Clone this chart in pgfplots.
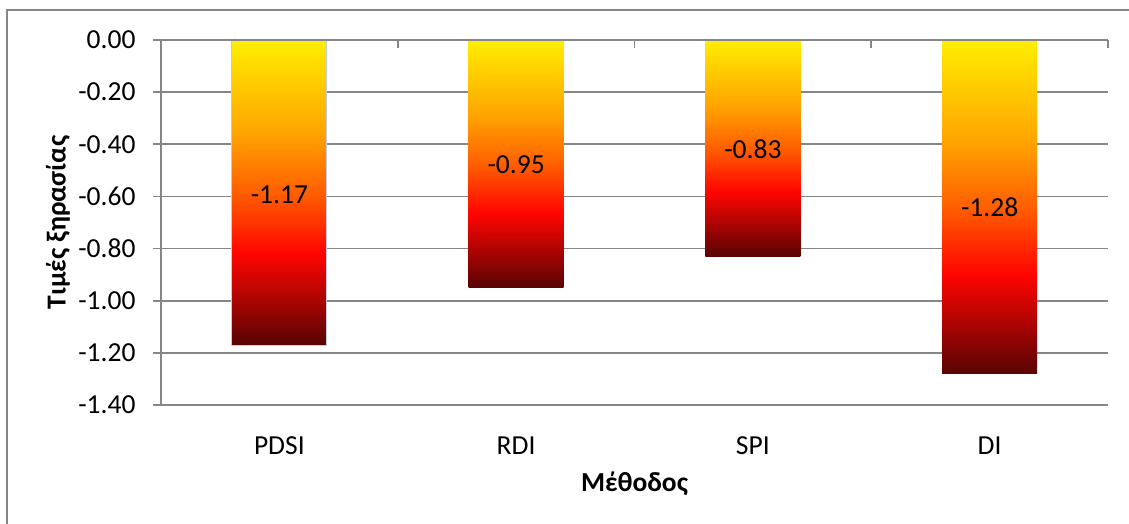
\documentclass[border=0pt]{standalone}
\usepackage{pgfplots}
\pgfplotsset{compat=1.18}
\usepackage{fontspec}
\setmainfont{Carlito}
\definecolor{gridgray}{RGB}{134,134,134}
\definecolor{outl}{RGB}{185,205,229}
\definecolor{c1}{RGB}{255,238,0}
\definecolor{c2}{RGB}{255,165,0}
\definecolor{c3}{RGB}{255,95,0}
\definecolor{c4}{RGB}{255,5,0}
\definecolor{c5}{RGB}{88,4,4}
\pgfdeclareverticalshading{barshade}{100bp}{color(0bp)=(c5); color(25bp)=(c5); color(40bp)=(c4); color(50bp)=(c3); color(60bp)=(c2); color(75bp)=(c1); color(100bp)=(c1)}
\newcommand{\fs}{\fontsize{27.5}{32}\selectfont}
\begin{document}
\begin{tikzpicture}[x=1pt,y=1pt]
\useasboundingbox (0,0) rectangle (1129,524);
\draw[color=gridgray, line width=1.5pt] (7,-5) -- (7,514) -- (1135,514);
\begin{axis}[
  at={(161pt,119pt)}, anchor=south west,
  scale only axis, width=947pt, height=365pt,
  xmin=-0.5, xmax=3.5, ymin=-1.4, ymax=0,
  axis y line*=left, axis x line*=bottom,
  xtick={0,1,2,3}, xticklabels={PDSI,RDI,SPI,DI},
  ytick={-1.4,-1.2,-1,-0.8,-0.6,-0.4,-0.2,0},
  yticklabels={-1.40,-1.20,-1.00,-0.80,-0.60,-0.40,-0.20,0.00},
  ymajorgrids,
  grid style={line width=1.6pt, gridgray},
  axis line style={line width=1.6pt, gridgray},
  x tick style={draw=none},
  y tick style={line width=1.6pt, gridgray},
  tick align=outside, major tick length=8pt,
  tick label style={font=\fs, text=black},
  xticklabel style={anchor=center, yshift=-33pt},
  yticklabel style={anchor=east, xshift=-14pt},
  xlabel={\bfseries Μέθοδος}, ylabel={\bfseries Τιμές ξηρασίας},
  label style={font=\fs},
  xlabel style={at={(axis description cs:0.5,0)}, anchor=center, yshift=-79pt},
  ylabel style={at={(axis description cs:-0.1088,0.5)}, anchor=center},
  clip=false,
  every axis plot/.append style={ybar, bar width=95pt, bar shift=0pt, shading=barshade},
]
\addplot[draw=outl, line width=1pt] coordinates {(0,-1.17)};
\addplot[draw=none] coordinates {(1,-0.95)};
\addplot[draw=none] coordinates {(2,-0.83)};
\addplot[draw=none] coordinates {(3,-1.28)};
\end{axis}
\begin{axis}[
  at={(161pt,119pt)}, anchor=south west,
  scale only axis, width=947pt, height=365pt,
  xmin=-0.5, xmax=3.5, ymin=-1.4, ymax=0,
  hide axis, clip=false,
]
\addplot[draw=none, mark=none, nodes near coords, point meta=explicit symbolic,
  nodes near coords style={anchor=center, font=\fs, text=black}]
  table[meta=lab] {
x y lab
0 -0.595 -1.17
1 -0.478 -0.95
2 -0.418 -0.83
3 -0.64 -1.28
};
\pgfplotsinvokeforeach{-0.5,0.5,1.5,2.5,3.5}{
  \draw[gridgray, line width=1.6pt] (axis cs:#1,0) -- ([yshift=-8pt]axis cs:#1,0);
}
\draw[gridgray, line width=1.6pt] (axis cs:-0.5,0) -- (axis cs:3.5,0);
\end{axis}
\end{tikzpicture}
\end{document}
